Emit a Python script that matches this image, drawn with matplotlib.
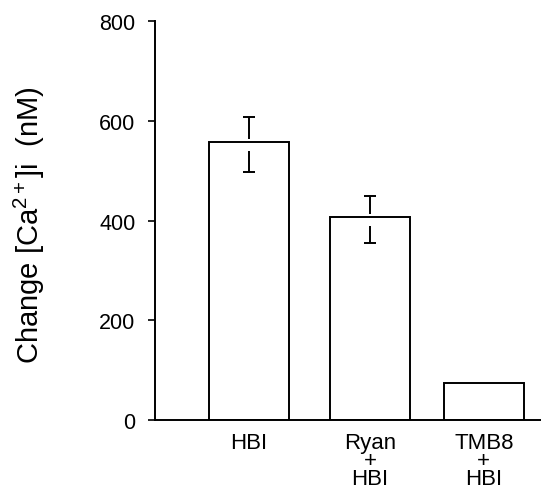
import numpy as np
import matplotlib.pyplot as plt

plt.rcParams['font.family'] = ['Liberation Sans', 'DejaVu Sans']
plt.rcParams['mathtext.fontset'] = 'custom'
plt.rcParams['mathtext.rm'] = 'Liberation Sans'
plt.rcParams['mathtext.it'] = 'Liberation Sans:italic'

labels = ["HBI", "Ryan\n+\nHBI", "TMB8\n+\nHBI"]
values = [558, 408, 75]
err_up = [49, 42, 0]
err_dn = [61, 53, 0]
yticks = [0, 200, 400, 600, 800]

pos = np.array([0, 1, 1.94])

fig = plt.figure(figsize=(5.41, 5.02), dpi=100)
ax = fig.add_axes([0.2865, 0.1614, 0.7135, 0.7946])

ax.bar(pos, values, width=0.66, color="white", edgecolor="black", linewidth=1.4, zorder=2)

# error bars drawn with a small break around the bar top, as in the original
cap = 0.05
for x, v, up, dn in zip(pos, values, err_up, err_dn):
    if up == 0:
        continue
    ax.vlines(x, v + 6, v + up, color="black", lw=1.4, zorder=3)
    ax.vlines(x, v - dn, v - 18, color="black", lw=1.4, zorder=3)
    ax.hlines([v + up, v - dn], x - cap, x + cap, color="black", lw=1.4, zorder=3)

ax.set_xlim(-0.777, 2.413)
ax.set_ylim(0, 800)
ax.set_yticks(yticks)
ax.set_xticks(pos)
ax.set_xticklabels(labels, fontsize=16, linespacing=0.8)
ax.tick_params(axis="x", length=0, pad=9)
ax.tick_params(axis="y", length=5, width=1.2, labelsize=15.5, pad=9)

for s in ["top", "right"]:
    ax.spines[s].set_visible(False)
for s in ["left", "bottom"]:
    ax.spines[s].set_linewidth(1.4)

ax.set_ylabel("Change [Ca$^{\\mathrm{2+}}$]i  (nM)", fontsize=21)
ax.yaxis.set_label_coords(-0.28, 0.49)

fig.savefig("out.png", dpi=100)
